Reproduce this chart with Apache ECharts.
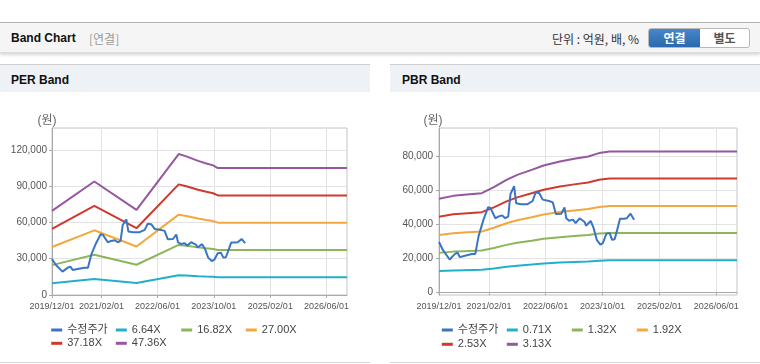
<!DOCTYPE html>
<html><head><meta charset="utf-8">
<script src="https://cdn.jsdelivr.net/npm/echarts@6/dist/echarts.min.js"></script>
<style>
body{margin:0;width:760px;height:364px;overflow:hidden;background:#fff;position:relative;font-family:'Liberation Sans','Noto Sans CJK KR',sans-serif;}
#hdr{position:absolute;left:0;top:22px;width:760px;height:29px;border-top:1px solid #b3b3b3;border-bottom:1px solid #dcdcdc;background:#f5f5f5;box-shadow:0 2px 3px rgba(0,0,0,.16);}
#hdr .t{position:absolute;left:11px;top:0;line-height:31px;font-size:12px;font-weight:bold;color:#111;}
#hdr .s{position:absolute;left:89px;top:0;line-height:31px;font-size:12px;color:#9a9a9a;font-family:'Noto Sans CJK KR',sans-serif;}
#hdr .u{position:absolute;left:552px;top:0;line-height:31px;font-size:12px;color:#333;font-family:'Noto Sans CJK KR',sans-serif;}
#btn{position:absolute;left:648px;top:5px;width:100px;height:18px;border:1px solid #b9b9b9;border-radius:3px;overflow:hidden;background:#fff;font-family:'Noto Sans CJK KR',sans-serif;font-size:12px;font-weight:bold;}
#btn .a{position:absolute;left:0;top:0;width:51px;height:18px;line-height:18px;text-align:center;color:#fff;background:linear-gradient(#4786cb,#2b69ad);}
#btn .b{position:absolute;left:51px;top:0;width:49px;height:18px;line-height:18px;text-align:center;color:#555;}
.pt{position:absolute;top:64px;width:370px;height:27px;border-top:1px solid #cfcfcf;background:#eef1f6;}
.pt span{position:absolute;left:11px;top:0;line-height:31px;font-size:12px;font-weight:bold;color:#111;}
.pb{position:absolute;top:362px;width:370px;height:1px;background:#d6d6d6;}
.ch{position:absolute;top:92px;width:370px;height:270px;}
</style></head>
<body>
<div id="hdr"><span class="t">Band Chart</span><span class="s">[연결]</span><span class="u">단위 : 억원, 배, %</span>
<div id="btn"><div class="a">연결</div><div class="b">별도</div></div></div>
<div class="pt" style="left:0"><span>PER Band</span></div>
<div class="pt" style="left:390px"><span style="left:12px">PBR Band</span></div>
<div id="c1" class="ch" style="left:0"></div>
<div id="c2" class="ch" style="left:390px"></div>
<div class="pb" style="left:0"></div>
<div class="pb" style="left:390px"></div>
<script>
// ---- data ----
const xTickDates = ['2019-12-01','2021-02-01','2022-06-01','2023-10-01','2025-02-01','2026-06-01'];
const xStart = '2019-12-01';
const xEnd = '2026-11-26';
const perYTicks = [0, 30000, 60000, 90000, 120000];
const pbrYTicks = [0, 20000, 40000, 60000, 80000];

const priceDates = ['2019-12-01','2020-01-04','2020-03-01','2020-04-16','2020-05-07','2020-05-28','2020-07-10','2020-09-07','2020-10-07','2020-11-04','2020-12-16','2021-01-25','2021-02-13','2021-03-28','2021-04-25','2021-05-25','2021-06-22','2021-07-16','2021-08-04','2021-09-04','2021-09-22','2021-11-01','2021-12-28','2022-02-10','2022-03-07','2022-04-07','2022-05-07','2022-07-01','2022-08-01','2022-08-28','2022-10-13','2022-11-10','2022-11-25','2022-12-19','2023-01-22','2023-02-13','2023-03-19','2023-05-01','2023-05-13','2023-06-22','2023-07-16','2023-08-13','2023-09-13','2023-10-04','2023-11-04','2023-12-01','2023-12-22','2024-01-13','2024-01-28','2024-02-28','2024-04-01','2024-04-25','2024-05-28','2024-06-13','2024-06-28'];
const priceValues = [29600,24800,19300,22600,23400,20700,21500,22600,22600,33100,42800,50200,49700,43600,44700,45300,43600,44700,57900,62500,52400,51900,51900,53800,58800,58500,54600,53800,53000,46100,46300,50000,43600,42200,42800,40800,43600,41400,39200,42000,38100,30900,28100,29000,34500,35000,30900,31200,35000,43300,43300,43600,46300,46900,42800];

const perDates = ['2019-12-01','2020-12-01','2021-12-01','2022-12-01','2023-02-05','2023-05-18','2023-07-28','2023-09-25','2023-11-05','2026-11-26'];
const per664  = [9748,13147,9860,16328,16056,15538,15239,15020,14701,14701];
const per1682 = [24692,33304,24978,41360,40671,39359,38602,38047,37240,37240];
const per2700 = [39636,53460,40095,66393,65286,63180,61965,61074,59778,59778];
const per3718 = [54580,73616,55212,91426,89901,87001,85328,84101,82317,82317];
const per4736 = [69524,93773,70330,116458,114516,110822,108691,107128,104855,104855];

const pbrDates = ['2019-12-01','2020-04-01','2020-07-01','2020-12-01','2021-03-15','2021-07-01','2021-10-01','2022-02-01','2022-05-15','2022-10-01','2023-02-01','2023-06-01','2023-09-01','2023-12-01','2026-11-26'];
const pbr071 = [12489,12887,13021,13249,14051,15031,15698,16366,16948,17480,17842,18148,18602,18815,18815];
const pbr132 = [23219,23958,24209,24631,26123,27944,29185,30426,31508,32498,33172,33739,34584,34980,34980];
const pbr192 = [33773,34848,35213,35827,37997,40646,42451,44256,45830,47270,48250,49075,50304,50880,50880];
const pbr253 = [44503,45920,46400,47210,50069,53560,55938,58317,60391,62289,63579,64667,66286,67045,67045];
const pbr313 = [55057,56810,57404,58406,61943,66262,69204,72147,74713,77061,78657,80003,82006,82945,82945];

const perNames = ['수정주가','6.64X','16.82X','27.00X','37.18X','47.36X'];
const pbrNames = ['수정주가','0.71X','1.32X','1.92X','2.53X','3.13X'];
const colors = ['#3a75c4','#21b0c8','#8db55a','#f4a73c','#cf3a2f','#9457a0'];

// ---- build ----
const axisFont = "'Liberation Sans',sans-serif";
const cjk = "'Liberation Sans','Noto Sans CJK KR',sans-serif";
const ts = s => +echarts.time.parse(s);
const xTickVals = xTickDates.map(ts);
const pairs = (d, v) => d.map((x, i) => [ts(x), v[i]]);
const fmtNum = v => Math.round(v).toLocaleString('en-US');
const pad2 = n => (n < 10 ? '0' : '') + n;
const fmtDate = v => { const d = new Date(v); return d.getFullYear() + '/' + pad2(d.getMonth() + 1) + '/' + pad2(d.getDate()); };

function buildOption(c) {
  const series = c.bands.map((b, i) => ({
    name: c.names[i + 1], type: 'line', data: pairs(c.bandDates, b),
    showSymbol: false, symbol: 'none', lineStyle: {width: 2, color: colors[i + 1]}, itemStyle: {color: colors[i + 1]}, z: 2
  }));
  series.unshift({
    name: c.names[0], type: 'line', data: pairs(priceDates, priceValues),
    showSymbol: false, symbol: 'none', lineStyle: {width: 2, color: colors[0]}, itemStyle: {color: colors[0]}, z: 3
  });
  const legends = c.names.map((n, i) => ({
    data: [n], left: c.legCols[i % 4] - 1.5, top: c.legRows[Math.floor(i / 4)] - 7,
    padding: 0, itemWidth: 11, itemHeight: 3, icon: 'rect', itemGap: 0,
    textStyle: {fontSize: 11, color: '#444', fontFamily: cjk, lineHeight: 14}
  }));
  return {
    animation: false,
    grid: {left: c.gridLeft, top: 36, width: c.gridWidth, height: 167, show: true, borderColor: '#c4c4c4', borderWidth: 1},
    xAxis: {
      type: 'value', min: ts(xStart), max: ts(xEnd),
      axisLine: {lineStyle: {color: '#a9a9a9'}},
      axisTick: {show: true, length: 3, customValues: xTickVals, lineStyle: {color: '#a9a9a9'}},
      axisLabel: {customValues: xTickVals, formatter: fmtDate, showMinLabel: true, showMaxLabel: true,
        color: '#555', fontSize: 9, fontFamily: axisFont, margin: 7, hideOverlap: false},
      splitLine: {show: true, lineStyle: {color: '#e3e3e3'}}
    },
    yAxis: {
      type: 'value', min: c.yMin, max: c.yMax,
      name: '(원)', nameLocation: 'end', nameGap: 1,
      nameTextStyle: {color: '#666', fontSize: 12, fontFamily: cjk, align: 'center', padding: [0, c.namePad, 0, 0]},
      axisLine: {show: true, lineStyle: {color: '#a9a9a9'}},
      axisTick: {show: true, length: 3, customValues: c.yTicks, lineStyle: {color: '#a9a9a9'}},
      axisLabel: {customValues: c.yTicks, formatter: fmtNum, showMinLabel: true, showMaxLabel: true,
        color: '#555', fontSize: 10, fontFamily: axisFont, margin: c.yMargin},
      splitLine: {show: true, lineStyle: {color: '#e3e3e3'}}
    },
    legend: legends,
    series: series
  };
}

const c1 = echarts.init(document.getElementById('c1'), null, {renderer: 'canvas'});
c1.setOption(buildOption({
  names: perNames, bandDates: perDates, bands: [per664, per1682, per2700, per3718, per4736],
  gridLeft: 52, gridWidth: 295, yMin: 0, yMax: 138000, yTicks: perYTicks, namePad: 10, yMargin: 5,
  legCols: [52.7, 117.3, 182.7, 247.3], legRows: [238, 251.3]
}));
const c2 = echarts.init(document.getElementById('c2'), null, {renderer: 'canvas'});
c2.setOption(buildOption({
  names: pbrNames, bandDates: pbrDates, bands: [pbr071, pbr132, pbr192, pbr253, pbr313],
  gridLeft: 49, gridWidth: 298, yMin: -1600, yMax: 96800, yTicks: pbrYTicks, namePad: 12, yMargin: 6,
  legCols: [53.3, 118.3, 183.3, 248.3], legRows: [238, 252.3]
}));
</script>
</body></html>
